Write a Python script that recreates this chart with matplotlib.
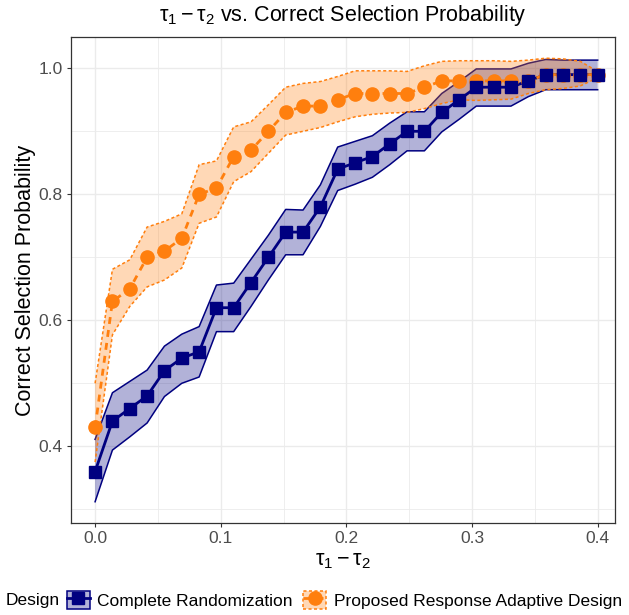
import matplotlib
matplotlib.use("Agg")
import matplotlib.pyplot as plt
from matplotlib.patches import Patch
from matplotlib.lines import Line2D

plt.rcParams['font.family'] = ['Liberation Sans', 'DejaVu Sans']
plt.rcParams['mathtext.fontset'] = 'custom'
plt.rcParams['mathtext.rm'] = 'Liberation Sans'
plt.rcParams['mathtext.it'] = 'Liberation Sans:italic'
plt.rcParams['mathtext.bf'] = 'Liberation Sans:bold'

# ---------------- data ----------------
tau_diff = [0.0000, 0.0138, 0.0276, 0.0414, 0.0552, 0.0690, 0.0828, 0.0966, 0.1103, 0.1241,
            0.1379, 0.1517, 0.1655, 0.1793, 0.1931, 0.2069, 0.2207, 0.2345, 0.2483, 0.2621,
            0.2759, 0.2897, 0.3034, 0.3172, 0.3310, 0.3448, 0.3586, 0.3724, 0.3862, 0.4000]

cr_prob = [0.36, 0.44, 0.46, 0.48, 0.52, 0.54, 0.55, 0.62, 0.62, 0.66,
           0.70, 0.74, 0.74, 0.78, 0.84, 0.85, 0.86, 0.88, 0.90, 0.90,
           0.93, 0.95, 0.97, 0.97, 0.97, 0.98, 0.99, 0.99, 0.99, 0.99]
cr_lower = [0.312, 0.394, 0.415, 0.437, 0.479, 0.500, 0.510, 0.582, 0.582, 0.622,
            0.664, 0.704, 0.704, 0.749, 0.806, 0.816, 0.827, 0.847, 0.869, 0.869,
            0.899, 0.919, 0.940, 0.940, 0.940, 0.955, 0.966, 0.966, 0.966, 0.966]
cr_upper = [0.411, 0.485, 0.503, 0.521, 0.559, 0.578, 0.590, 0.656, 0.659, 0.697,
            0.735, 0.776, 0.775, 0.815, 0.875, 0.884, 0.893, 0.913, 0.931, 0.931,
            0.960, 0.979, 0.999, 0.999, 0.999, 1.008, 1.014, 1.013, 1.013, 1.013]

rar_prob = [0.43, 0.63, 0.65, 0.70, 0.71, 0.73, 0.80, 0.81, 0.86, 0.87,
            0.90, 0.93, 0.94, 0.94, 0.95, 0.96, 0.96, 0.96, 0.96, 0.97,
            0.98, 0.98, 0.98, 0.98, 0.98, 0.98, 0.99, 0.99, 0.99, 0.99]
rar_lower = [0.375, 0.577, 0.622, 0.653, 0.664, 0.683, 0.754, 0.764, 0.820, 0.836,
             0.865, 0.894, 0.900, 0.906, 0.915, 0.923, 0.927, 0.929, 0.930, 0.936,
             0.944, 0.950, 0.949, 0.950, 0.951, 0.960, 0.966, 0.968, 0.972, 0.985]
rar_upper = [0.500, 0.681, 0.696, 0.748, 0.757, 0.769, 0.847, 0.853, 0.907, 0.915,
             0.942, 0.970, 0.976, 0.979, 0.987, 0.996, 0.996, 0.996, 0.995, 1.004,
             1.011, 1.012, 1.012, 1.012, 1.011, 1.013, 1.016, 1.015, 1.011, 0.995]

designs = ["Complete Randomization", "Proposed Response Adaptive Design"]
x_ticks = [0.0, 0.1, 0.2, 0.3, 0.4]
y_ticks = [0.4, 0.6, 0.8, 1.0]

# ---------------- style ----------------
navy = "#000080"
orange = "#FF7F0E"
grey20 = "#333333"
grey30 = "#4D4D4D"
gridc = "#EBEBEB"

W, H = 629, 615
left_px, right_px, top_px, bot_px = 70.6, 615.0, 37.0, 523.0

fig = plt.figure(figsize=(W / 100, H / 100), dpi=100)
ax = fig.add_axes([left_px / W, 1 - bot_px / H, (right_px - left_px) / W, (bot_px - top_px) / H])

# ribbons
ax.fill_between(tau_diff, cr_lower, cr_upper, facecolor=navy, alpha=0.3, lw=0, zorder=2)
ax.plot(tau_diff, cr_lower, color=navy, lw=1.1, zorder=2.1)
ax.plot(tau_diff, cr_upper, color=navy, lw=1.1, zorder=2.1)
ax.fill_between(tau_diff, rar_lower, rar_upper, facecolor=orange, alpha=0.3, lw=0, zorder=2.2)
ax.plot(tau_diff, rar_lower, color=orange, lw=1.1, ls=(0, (2, 1.6)), zorder=2.3)
ax.plot(tau_diff, rar_upper, color=orange, lw=1.1, ls=(0, (2, 1.6)), zorder=2.3)

# lines
ax.plot(tau_diff, cr_prob, color=navy, lw=2.0, zorder=3)
ax.plot(tau_diff, rar_prob, color=orange, lw=2.0, ls=(0, (2.5, 2.2)), zorder=3.1)
# points
ax.plot(tau_diff, rar_prob, ls='none', marker='o', ms=9.5, color=orange, mec=orange, zorder=4)
ax.plot(tau_diff, cr_prob, ls='none', marker='s', ms=8.5, color=navy, mec=navy, zorder=4.1)

ax.set_xlim(-0.0195, 0.4138)
ax.set_ylim(1 - (bot_px - 68.3) / 630, 1 + (68.3 - top_px) / 630)
ax.set_xticks(x_ticks)
ax.set_xticklabels([f"{t:.1f}" for t in x_ticks])
ax.set_yticks(y_ticks)
ax.set_yticklabels([f"{t:.1f}" for t in y_ticks])
ax.set_xticks([0.05, 0.15, 0.25, 0.35], minor=True)
ax.set_yticks([0.3, 0.5, 0.7, 0.9], minor=True)
ax.grid(which='major', color=gridc, lw=1.0, zorder=0)
ax.grid(which='minor', color=gridc, lw=0.6, zorder=0)
ax.set_axisbelow(True)
ax.tick_params(which='major', length=3.2, width=0.8, color=grey20, labelcolor=grey30,
               labelsize=12.5, pad=2.5)
ax.tick_params(which='minor', length=0)
for s in ax.spines.values():
    s.set_color(grey20)
    s.set_linewidth(0.9)

ax.set_xlabel(r"$\mathrm{\tau}_1 - \mathrm{\tau}_2$", fontsize=15.5, color='black', labelpad=3)
ax.set_ylabel("Correct Selection Probability", fontsize=15.5, color='black', labelpad=2)
fig.text(0.5 * (left_px + right_px) / W, 1 - 15 / H,
         r"$\mathrm{\tau}_1 - \mathrm{\tau}_2$ vs. Correct Selection Probability",
         ha='center', va='center', fontsize=15.5)

# legend
h_cr = (Patch(facecolor=(0, 0, 0.502, 0.3), edgecolor=navy, lw=1.1),
        Line2D([], [], color=navy, lw=2.0, marker='s', ms=8.5))
h_rar = (Patch(facecolor=(1, 0.498, 0.055, 0.3), edgecolor=orange, lw=1.1, ls=(0, (2, 1.6))),
         Line2D([], [], color=orange, lw=2.0, ls=(0, (2.5, 2.2)), marker='o', ms=9.5))
fig.text(6 / W, 1 - 600 / H, "Design", ha='left', va='center', fontsize=12.5)
fig.legend([h_cr, h_rar], designs, loc='center left', bbox_to_anchor=(67 / W, 1 - 600 / H),
           ncol=2, frameon=False, fontsize=12.5, handlelength=1.3, handleheight=1.3,
           handletextpad=0.45, columnspacing=0.6, borderpad=0, borderaxespad=0)

fig.savefig("out.png", dpi=100)
